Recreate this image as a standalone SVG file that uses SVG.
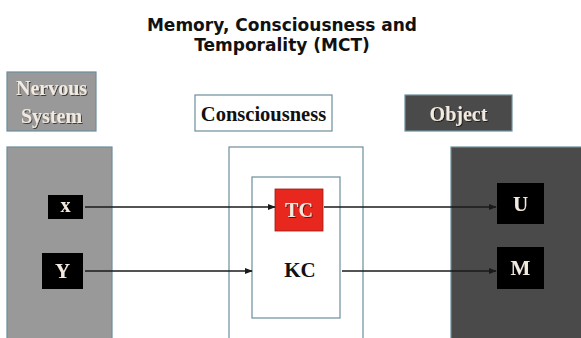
<svg xmlns="http://www.w3.org/2000/svg" width="581" height="338" viewBox="0 0 581 338">
<style>
.title{font-family:"DejaVu Sans",Verdana,sans-serif;font-weight:bold;font-size:17px;fill:#111;text-anchor:middle}
.lbl{font-family:"Liberation Serif","Times New Roman",serif;font-weight:bold;text-anchor:middle}
.light{fill:#f2e9df;filter:url(#sh)}
.dark{fill:#111}
.edge{stroke:#6b8e9c;stroke-width:1.2}
.conn{stroke:#1a1a1a;stroke-width:1.6;fill:none;marker-end:url(#ah)}
</style>
<defs>
<marker id="ah" viewBox="0 0 10 10" refX="9" refY="5" markerWidth="5" markerHeight="5" orient="auto" markerUnits="strokeWidth">
<path d="M0,1 L10,5 L0,9 Z" fill="#1a1a1a"/>
</marker>
<filter id="sh" x="-20%" y="-20%" width="140%" height="140%">
<feDropShadow dx="1" dy="1" stdDeviation="0.6" flood-color="#000" flood-opacity="0.6"/>
</filter>
</defs>
<rect width="581" height="338" fill="#ffffff"/>
<g id="title">
<text class="title" x="282" y="31">Memory, Consciousness and</text>
<text class="title" x="282" y="51">Temporality (MCT)</text>
</g>
<g id="nervous-system-label">
<rect class="edge" x="7" y="72" width="89" height="59" fill="#999999"/>
<text class="lbl light" x="51.5" y="95" font-size="20">Nervous</text>
<text class="lbl light" x="51.5" y="123" font-size="20">System</text>
</g>
<g id="consciousness-label">
<rect class="edge" x="195" y="95" width="137" height="36" fill="#ffffff"/>
<text class="lbl dark" x="263.5" y="121" font-size="20.5">Consciousness</text>
</g>
<g id="object-label">
<rect class="edge" x="405" y="95" width="107" height="36" fill="#4a4a4a"/>
<text class="lbl light" x="458.5" y="121" font-size="20">Object</text>
</g>
<g id="nervous-panel">
<rect class="edge" x="7" y="147" width="105" height="200" fill="#999999"/>
</g>
<g id="consciousness-panel">
<rect class="edge" x="229" y="147" width="134" height="200" fill="#ffffff"/>
<rect class="edge" x="252" y="177" width="88" height="141" fill="#ffffff"/>
</g>
<g id="object-panel">
<rect class="edge" x="451" y="147" width="140" height="200" fill="#4a4a4a"/>
</g>
<g id="x">
<rect x="48" y="195" width="35" height="24" fill="#000"/>
<text class="lbl light" x="65.5" y="212" font-size="20">x</text>
</g>
<g id="Y">
<rect x="42" y="253" width="41" height="36" fill="#000"/>
<text class="lbl light" x="62.5" y="278" font-size="21">Y</text>
</g>
<g id="TC">
<rect x="275" y="189" width="48" height="42" fill="#e8281e" stroke="#9a1a10" stroke-width="0.8"/>
<text class="lbl light" x="299" y="217" font-size="20">TC</text>
</g>
<g id="KC">
<text class="lbl dark" x="300" y="277" font-size="21">KC</text>
</g>
<g id="U">
<rect x="497" y="183" width="47" height="41" fill="#000"/>
<text class="lbl light" x="520.5" y="211" font-size="21">U</text>
</g>
<g id="M">
<rect x="497" y="247" width="47" height="42" fill="#000"/>
<text class="lbl light" x="520.5" y="275" font-size="21">M</text>
</g>
<g id="connectors">
<line class="conn" x1="85" y1="207" x2="275" y2="207"/>
<line class="conn" x1="85" y1="271" x2="252" y2="271"/>
<line class="conn" x1="324" y1="207" x2="496" y2="207"/>
<line class="conn" x1="342" y1="271" x2="496" y2="271"/>
</g>
</svg>
